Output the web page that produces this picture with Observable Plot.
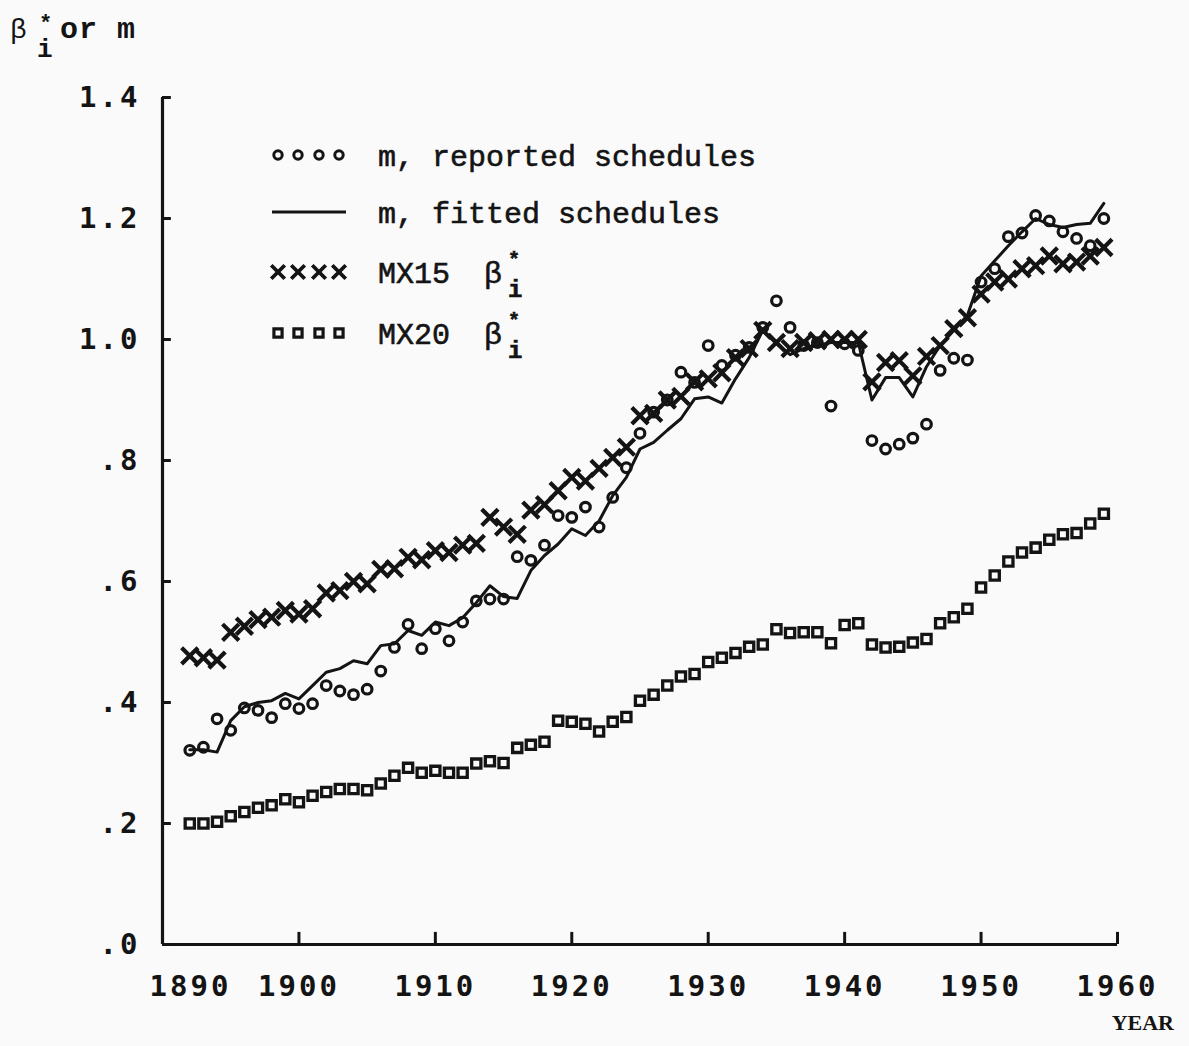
<!DOCTYPE html>
<html><head><meta charset="utf-8">
<script src="https://cdn.jsdelivr.net/npm/d3@7"></script>
<script src="https://cdn.jsdelivr.net/npm/@observablehq/plot@0.6"></script>
<style>
html,body{margin:0;padding:0;background:#fafafa;}
#wrap{position:relative;width:1189px;height:1046px;overflow:hidden;}
#wrap svg{position:absolute;left:0;top:0;}
</style></head><body>
<div id="wrap"></div>
<script>
const years = [1892,1893,1894,1895,1896,1897,1898,1899,1900,1901,1902,1903,1904,1905,1906,1907,1908,1909,1910,1911,
  1912,1913,1914,1915,1916,1917,1918,1919,1920,1921,1922,1923,1924,1925,1926,1927,1928,1929,1930,1931,
  1932,1933,1934,1935,1936,1937,1938,1939,1940,1941,1942,1943,1944,1945,1946,1947,1948,1949,1950,1951,
  1952,1953,1954,1955,1956,1957,1958,1959];

// m, reported schedules (circles)
const reported = [.321,.326,.373,.354,.391,.387,.375,.398,.390,.398,.428,.419,.413,.422,.452,.491,.529,.489,.522,.502,
  .533,.568,.571,.571,.641,.635,.660,.709,.706,.723,.690,.739,.788,.845,.880,.900,.946,.929,.990,.957,
  .974,.987,1.020,1.064,1.020,.990,.995,.890,.993,.982,.833,.819,.827,.837,.860,.949,.969,.966,1.095,1.117,
  1.170,1.176,1.205,1.196,1.178,1.167,1.155,1.200];

// m, fitted schedules (line)
const fitted = [.322,.322,.318,.370,.393,.400,.403,.415,.406,.428,.450,.456,.469,.464,.494,.497,.519,.511,.533,.527,
  .540,.565,.593,.575,.572,.618,.643,.662,.687,.676,.700,.742,.772,.819,.830,.850,.869,.902,.905,.895,
  .935,.970,1.015,.993,.975,.985,.990,.995,.995,.995,.900,.937,.937,.905,.955,.990,1.015,1.040,1.105,1.130,
  1.155,1.178,1.200,1.190,1.185,1.190,1.192,1.225];

// MX15 beta*_i (x marks)
const mx15 = [.477,.474,.470,.516,.526,.537,.541,.552,.546,.555,.581,.585,.600,.596,.620,.621,.640,.636,.651,.648,
  .660,.663,.706,.690,.678,.718,.727,.750,.772,.766,.787,.805,.822,.874,.878,.900,.906,.930,.935,.945,
  .970,.985,1.015,.995,.985,.995,.998,1.000,1.000,1.000,.930,.962,.965,.940,.972,.990,1.018,1.036,1.075,1.095,
  1.100,1.117,1.122,1.138,1.125,1.128,1.138,1.152];

// MX20 beta*_i (squares)
const mx20 = [.200,.200,.203,.212,.219,.226,.230,.240,.235,.246,.252,.257,.257,.255,.266,.279,.292,.284,.287,.284,
  .284,.299,.303,.300,.325,.330,.335,.370,.368,.365,.352,.368,.376,.403,.413,.428,.443,.447,.467,.474,
  .482,.492,.496,.521,.515,.516,.516,.498,.528,.531,.496,.491,.492,.499,.505,.531,.541,.555,.590,.610,
  .633,.648,.656,.669,.678,.680,.696,.712];

const yTicks = [0, 0.2, 0.4, 0.6, 0.8, 1.0, 1.2, 1.4];
const yTickLabels = [".0", ".2", ".4", ".6", ".8", "1.0", "1.2", "1.4"];
const xTicks = [1890, 1900, 1910, 1920, 1930, 1940, 1950, 1960];
const xTickLabels = ["1890", "1900", "1910", "1920", "1930", "1940", "1950", "1960"];
const legendLabels = ["m, reported schedules", "m, fitted schedules", "MX15", "MX20"];
const xTitle = "YEAR";

const rows = years.map((yr, i) => ({year: yr, reported: reported[i], fitted: fitted[i], mx15: mx15[i], mx20: mx20[i]}));

const INK = "#141414";
const tickFont = {fontFamily: "'DejaVu Sans Mono', monospace", fontWeight: "bold", fontSize: 29, fill: INK};

const chart = Plot.plot({
  width: 1189, height: 1046,
  marginLeft: 162, marginRight: 72, marginTop: 97, marginBottom: 102,
  x: {domain: [1890, 1960], axis: null},
  y: {domain: [0, 1.4], axis: null},
  style: {background: "transparent", color: INK, overflow: "visible"},
  marks: [
    Plot.ruleX([1890], {y1: 0, y2: 1.4, stroke: INK, strokeWidth: 3.2}),
    Plot.ruleY([0], {x1: 1890, x2: 1960, stroke: INK, strokeWidth: 3}),
    Plot.ruleY(yTicks, {x1: 1890, x2: 1890.65, stroke: INK, strokeWidth: 3}),
    Plot.ruleX(xTicks, {y1: 0, y2: 0.02, stroke: INK, strokeWidth: 3}),
    Plot.text(yTicks, {x: 1890, y: d => d, text: (d, i) => yTickLabels[i], textAnchor: "end", dx: -22,
      lineAnchor: "middle", ...tickFont}),
    Plot.text(xTicks.slice(1), {x: d => d, y: 0, text: (d, i) => xTickLabels[i + 1], dy: 42,
      lineAnchor: "middle", ...tickFont}),
    Plot.text(xTicks.slice(0, 1), {x: d => d, y: 0, text: (d, i) => xTickLabels[i], dy: 42, dx: 28,
      lineAnchor: "middle", ...tickFont}),
    Plot.line(rows, {x: "year", y: "fitted", stroke: INK, strokeWidth: 3, strokeLinejoin: "round"}),
    Plot.dot(rows, {x: "year", y: "mx20", symbol: "square", r: 5.2, stroke: INK, strokeWidth: 3.3, fill: "none"}),
    Plot.dot(rows, {x: "year", y: "reported", symbol: "circle", r: 4.8, stroke: INK, strokeWidth: 3.2, fill: "none"}),
    Plot.dot(rows, {x: "year", y: "mx15", symbol: "times", r: 7.5, stroke: INK, strokeWidth: 4.2})
  ]
});
d3.select(chart).selectAll("text").style("letter-spacing", "3px");
document.getElementById("wrap").appendChild(chart);

// overlay: axis title, legend, x title
const ov = d3.select("#wrap").append("svg")
  .attr("width", 1189).attr("height", 1046)
  .style("pointer-events", "none");
const mono = "'Liberation Mono', 'Courier New', monospace";

// y axis title: beta*_i or m
const yt = ov.append("g").attr("font-family", mono).attr("fill", INK);
yt.append("text").attr("x", 10).attr("y", 38).attr("font-size", 28).text("β");
yt.append("text").attr("x", 39).attr("y", 30).attr("font-size", 22).attr("font-weight", "bold").text("*");
yt.append("text").attr("x", 37).attr("y", 57).attr("font-size", 26).attr("font-weight", "bold").text("i");
yt.append("text").attr("x", 60).attr("y", 38).attr("font-size", 30).attr("font-weight", "bold")
  .style("letter-spacing", "1px").text("or m");

// legend
const lg = ov.append("g").attr("fill", INK);
const symX = [278, 298, 319, 339];
const rowY = [155, 212, 272, 333];
const sym = (type, r) => d3.symbol(type, Math.PI * r * r)();
symX.forEach(x => lg.append("path").attr("d", sym(d3.symbolCircle, 4.2)).attr("transform", `translate(${x},${rowY[0]})`)
  .attr("fill", "none").attr("stroke", INK).attr("stroke-width", 3));
lg.append("line").attr("x1", 272).attr("x2", 346).attr("y1", rowY[1]).attr("y2", rowY[1]).attr("stroke", INK).attr("stroke-width", 3);
symX.forEach(x => lg.append("path").attr("d", sym(d3.symbolTimes, 6.2)).attr("transform", `translate(${x},${rowY[2]})`)
  .attr("fill", "none").attr("stroke", INK).attr("stroke-width", 3.8));
symX.forEach(x => lg.append("path").attr("d", sym(d3.symbolSquare, 4.6)).attr("transform", `translate(${x},${rowY[3]})`)
  .attr("fill", "none").attr("stroke", INK).attr("stroke-width", 3.2));

const lt = lg.append("g").attr("font-family", mono).attr("font-size", 30)
  .attr("stroke", INK).attr("stroke-width", 0.6);
legendLabels.forEach((s, i) => lt.append("text").attr("x", 378).attr("y", rowY[i]).attr("dy", "0.35em").text(s));
[2, 3].forEach(i => {
  lt.append("text").attr("x", 484).attr("y", rowY[i]).attr("dy", "0.35em").text("β");
  lt.append("text").attr("x", 508).attr("y", rowY[i] - 6).attr("font-size", 20).attr("font-weight", "bold").text("*");
  lt.append("text").attr("x", 508).attr("y", rowY[i] + 25).attr("font-size", 24).attr("font-weight", "bold").text("i");
});

// x title
ov.append("text").attr("x", 1174).attr("y", 1030).attr("text-anchor", "end")
  .attr("font-family", "'Liberation Serif', serif").attr("font-weight", "bold").attr("font-size", 22)
  .attr("fill", INK).text(xTitle);
</script>
</body></html>
